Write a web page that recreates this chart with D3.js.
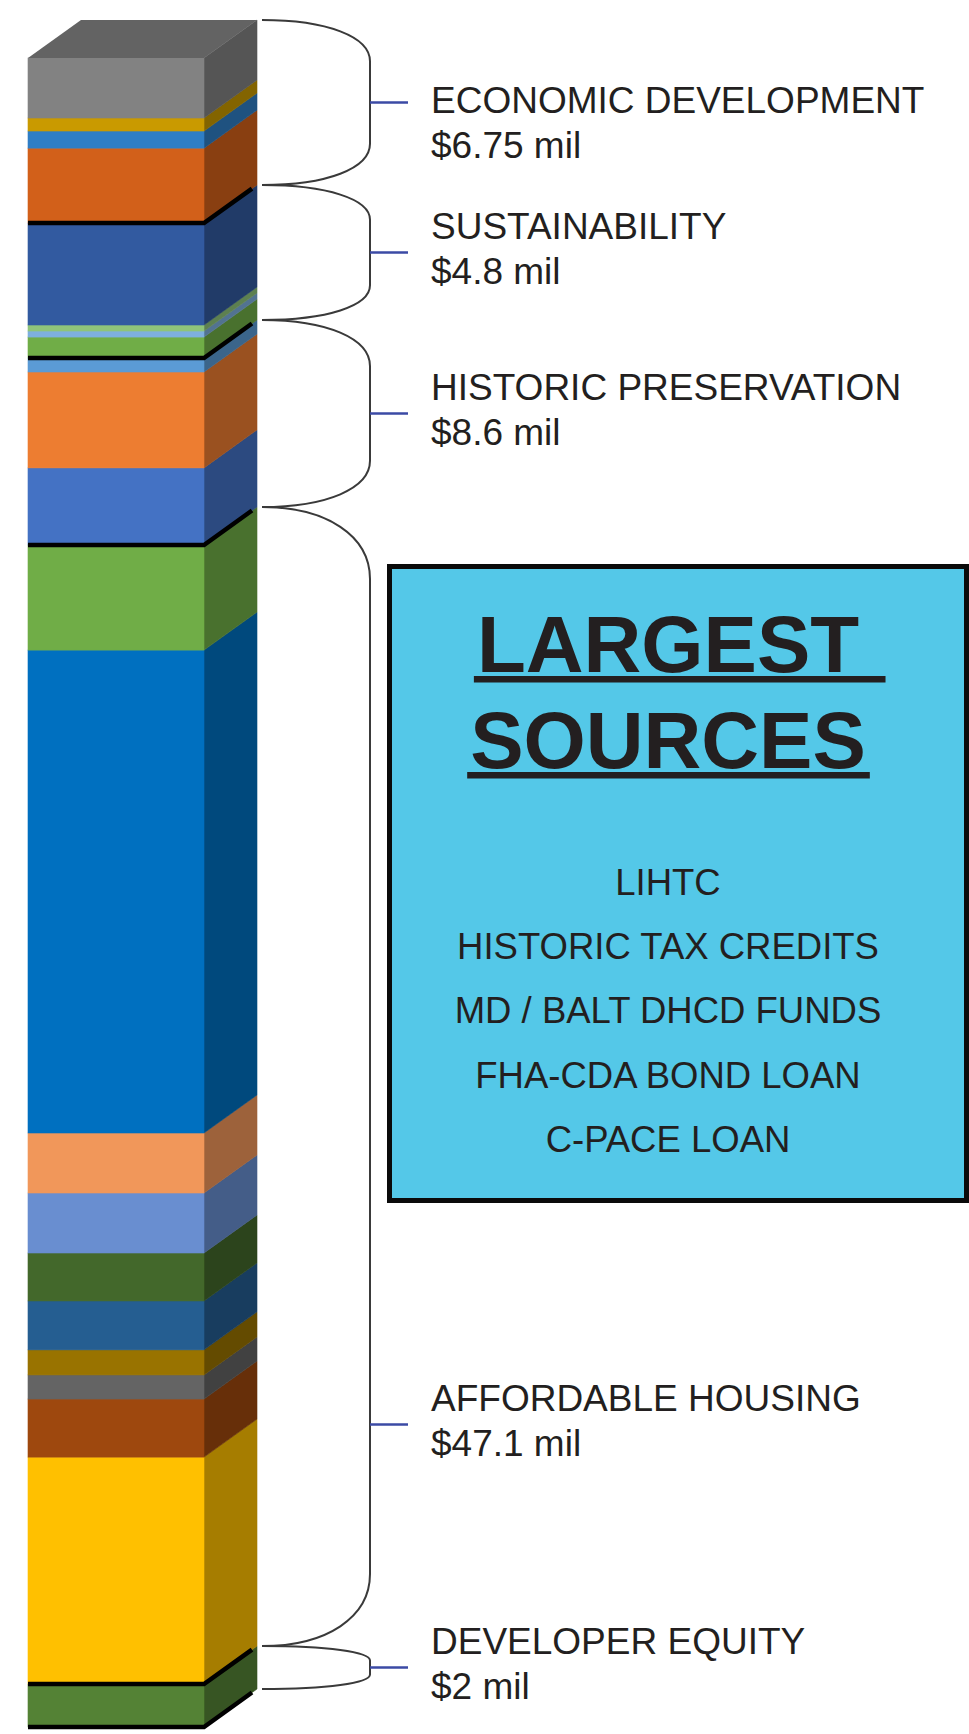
<!DOCTYPE html>
<html>
<head>
<meta charset="utf-8">
<script src="https://cdn.jsdelivr.net/npm/d3@7"></script>
<style>
  body { margin: 0; background: #fff; }
  text { font-family: "Liberation Sans", Arial, Helvetica, sans-serif; fill: #231f20; }
</style>
</head>
<body>
<div id="chart"></div>
<script>
// column pieces, stacked from the bottom up ($ mil)
const segmentValues = [1.78, 9.42, 2.41, 1.0, 1.04, 2.03, 1.99, 2.49, 2.49, 20.04, 4.36,
  3.2, 3.98, 0.58, 0.87, 0.25, 0.25, 4.23, 3.11, 0.71, 0.54, 2.49];
const segmentGroup = [0, 1, 1, 1, 1, 1, 1, 1, 1, 1, 1, 2, 2, 2, 3, 3, 3, 3, 4, 4, 4, 4];
const segmentColors = ["#548235", "#ffc000", "#9e480e", "#646464", "#997300", "#255e91",
  "#43682b", "#698ed0", "#f1975a", "#0070c0", "#70ad47", "#4472c4", "#ed7d31", "#5b9bd5",
  "#70ad47", "#7eb0de", "#8fc47a", "#325aa0", "#d2601a", "#2f7ec5", "#c99a00", "#828282"];

const groupNames = ["DEVELOPER EQUITY", "AFFORDABLE HOUSING", "HISTORIC PRESERVATION",
  "SUSTAINABILITY", "ECONOMIC DEVELOPMENT"];
const groupAmounts = ["$2 mil", "$47.1 mil", "$8.6 mil", "$4.8 mil", "$6.75 mil"];

const boxTitle = ["LARGEST ", "SOURCES"];
const sourceNames = ["LIHTC", "HISTORIC TAX CREDITS", "MD / BALT DHCD FUNDS",
  "FHA-CDA BOND LOAN", "C-PACE LOAN"];

const width = 969, height = 1734;
const col = { left: 28, right: 204, top: 58, bottom: 1727 };
const depth = { dx: 53, dy: -38 };
const box = { x: 387, y: 564, w: 582, h: 639 };

const svg = d3.select("#chart").append("svg")
  .attr("width", width)
  .attr("height", height);

const total = d3.sum(segmentValues);
const y = d3.scaleLinear().domain([0, total]).range([col.bottom, col.top]);

// running sums for stacking
let cum = 0;
const segments = segmentValues.map(function(v, i) {
  const s = { y0: cum, y1: cum + v, group: segmentGroup[i], color: segmentColors[i] };
  cum += v;
  return s;
});

const groups = groupNames.map(function(name, g) {
  const parts = segments.filter(s => s.group === g);
  return {
    name: name,
    amount: groupAmounts[g],
    y0: d3.min(parts, s => s.y0),
    y1: d3.max(parts, s => s.y1)
  };
});

const column = svg.append("g");

// side faces
column.selectAll("path.side")
  .data(segments)
  .enter().append("path")
  .attr("class", "side")
  .attr("fill", d => d3.color(d.color).darker(1.2))
  .attr("stroke", d => d3.color(d.color).darker(1.2))
  .attr("stroke-width", 0.6)
  .attr("d", function(d) {
    const yb = y(d.y0), yt = y(d.y1);
    return "M" + col.right + "," + yb +
      "L" + (col.right + depth.dx) + "," + (yb + depth.dy) +
      "L" + (col.right + depth.dx) + "," + (yt + depth.dy) +
      "L" + col.right + "," + yt + "Z";
  });

// front faces
column.selectAll("rect.front")
  .data(segments)
  .enter().append("rect")
  .attr("class", "front")
  .attr("x", col.left)
  .attr("width", col.right - col.left)
  .attr("y", d => y(d.y1))
  .attr("height", d => y(d.y0) - y(d.y1))
  .attr("fill", d => d.color)
  .attr("stroke", d => d.color)
  .attr("stroke-width", 0.6);

// top face of the last piece
const topSeg = segments[segments.length - 1];
const yTop = y(topSeg.y1);
column.append("path")
  .attr("fill", d3.color(topSeg.color).darker(0.75))
  .attr("d", "M" + col.left + "," + yTop +
    "L" + (col.left + depth.dx) + "," + (yTop + depth.dy) +
    "L" + (col.right + depth.dx) + "," + (yTop + depth.dy) +
    "L" + col.right + "," + yTop + "Z");

// black line under each group
column.selectAll("path.sep")
  .data(groups)
  .enter().append("path")
  .attr("class", "sep")
  .attr("fill", "none")
  .attr("stroke", "#000")
  .attr("stroke-width", 4.5)
  .attr("d", function(d) {
    const yb = y(d.y0);
    return "M" + col.left + "," + yb + "L" + col.right + "," + yb +
      "L" + (col.right + depth.dx - 5) + "," + (yb + depth.dy + 3.5);
  });

// braces
const braceX0 = col.right + depth.dx + 5;
const braceX1 = 370;
const labelX = 431;
const labelTopLimit = 113;

const braces = svg.append("g");
groups.forEach(function(g) {
  const top = y(g.y1) + depth.dy;
  const bot = y(g.y0) + depth.dy;
  const h = bot - top;
  const r = Math.min(0.22 * h + 5, 72);
  const bx = braceX0 + (braceX1 - braceX0) * 0.6;
  braces.append("path")
    .attr("fill", "none")
    .attr("stroke", "#3a3a3a")
    .attr("stroke-width", 2)
    .attr("d", "M" + braceX0 + "," + top +
      "C" + bx + "," + top + " " + braceX1 + "," + (top + r * 0.4) + " " + braceX1 + "," + (top + r) +
      "L" + braceX1 + "," + (bot - r) +
      "C" + braceX1 + "," + (bot - r * 0.4) + " " + bx + "," + bot + " " + braceX0 + "," + bot);

  // tick sits at the middle, or below the box if the middle is hidden behind it
  let tickY = (top + bot) / 2;
  if (tickY > box.y && tickY < box.y + box.h) tickY = (box.y + box.h + bot) / 2;

  braces.append("line")
    .attr("x1", braceX1).attr("x2", 408)
    .attr("y1", tickY).attr("y2", tickY)
    .attr("stroke", "#3b4aa5")
    .attr("stroke-width", 2.5);

  const base = Math.max(tickY - 14, labelTopLimit);
  const lab = braces.append("g")
    .attr("transform", "translate(" + labelX + "," + base + ")")
    .style("font-size", "37px");
  lab.append("text").attr("x", 0).attr("y", 0).text(g.name);
  lab.append("text").attr("x", 0).attr("y", 45).text(g.amount);
});

// the "largest sources" box
const bw = 5;
svg.append("rect")
  .attr("x", box.x + bw / 2)
  .attr("y", box.y + bw / 2)
  .attr("width", box.w - bw)
  .attr("height", box.h - bw)
  .attr("fill", "#54c8e8")
  .attr("stroke", "#0a0a0a")
  .attr("stroke-width", bw);

const boxCx = 668;
const titleSize = 80;
boxTitle.forEach(function(t, i) {
  const g = svg.append("g")
    .attr("transform", "translate(" + boxCx + "," + (672 + i * 96) + ")");
  const txt = g.append("text")
    .attr("text-anchor", "middle")
    .style("font-size", titleSize + "px")
    .style("font-weight", "bold")
    .text(t.trim());
  const w = txt.node().getComputedTextLength();
  const extra = t.endsWith(" ") ? titleSize * 0.28 : 0;
  g.append("rect")
    .attr("x", -w / 2 - 3)
    .attr("width", w + 7 + extra)
    .attr("y", 4)
    .attr("height", 6.5)
    .attr("fill", "#231f20");
});

sourceNames.forEach(function(s, i) {
  svg.append("text")
    .attr("x", boxCx)
    .attr("y", 895 + i * 64.2)
    .attr("text-anchor", "middle")
    .style("font-size", "36.5px")
    .text(s);
});
</script>
</body>
</html>
